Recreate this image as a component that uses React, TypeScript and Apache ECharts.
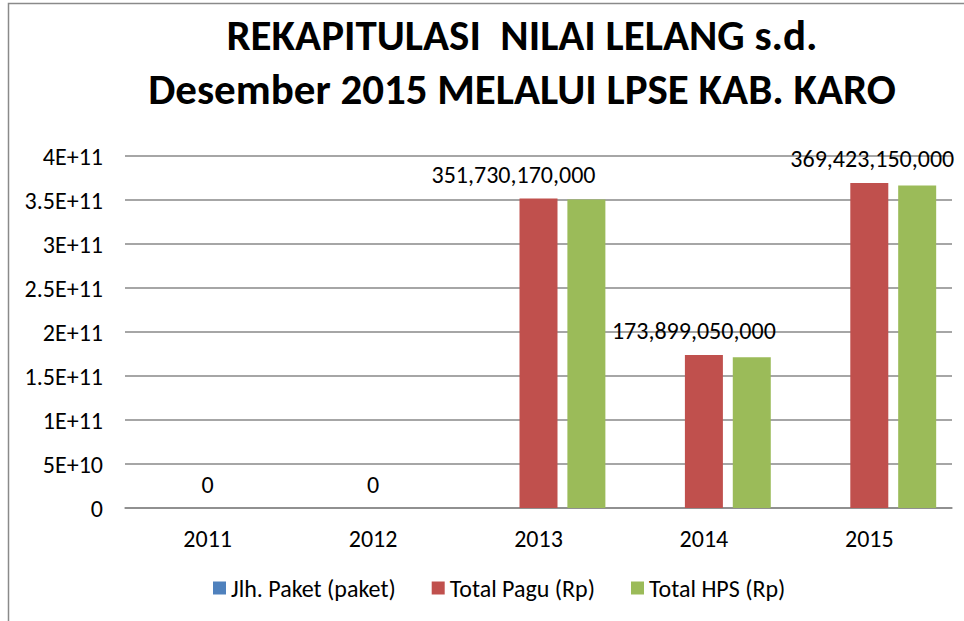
import React, { useEffect, useRef } from "react";
import * as echarts from "echarts";

const categories = ["2011", "2012", "2013", "2014", "2015"];
const seriesNames = ["Jlh. Paket (paket)", "Total Pagu (Rp)", "Total HPS (Rp)"];
const jlhPaket = [0, 0, 0, 0, 0];
const totalPagu = [0, 0, 351730170000, 173899050000, 369423150000];
const totalHps = [0, 0, 350500000000, 171300000000, 366400000000];
const yTickLabels = ["0", "5E+10", "1E+11", "1.5E+11", "2E+11", "2.5E+11", "3E+11", "3.5E+11", "4E+11"];
const labelShift = [0, 0, -25, -10, 3];

const FONT = "Calibri, Carlito, Lato, sans-serif";

export default function App() {
  const ref = useRef<HTMLDivElement>(null);
  useEffect(() => {
    if (!ref.current) return;
    const chart = echarts.init(ref.current, undefined, { renderer: "svg" });
    chart.setOption({
      animation: false,
      backgroundColor: "#ffffff",
      title: {
        text: "REKAPITULASI  NILAI LELANG s.d.\nDesember 2015 MELALUI LPSE KAB. KARO",
        left: 517,
        top: 3,
        textAlign: "center",
        textStyle: {
          fontFamily: FONT,
          fontSize: 43,
          fontWeight: "bold",
          color: "#000",
          lineHeight: 54,
        },
      },
      graphic: [
        {
          type: "polyline",
          shape: { points: [[8.5, 621], [8.5, 3.5], [964, 3.5]] },
          style: { stroke: "#8a8a8a", lineWidth: 1.5, fill: "none" },
        },
      ],
      legend: {
        top: 571,
        left: 208,
        itemWidth: 13,
        itemHeight: 13,
        itemGap: 36,
        icon: "rect",
        textStyle: { fontFamily: FONT, fontSize: 24, color: "#000", lineHeight: 24 },
        data: seriesNames,
      },
      grid: { left: 125, right: 12, top: 156, bottom: 113, containLabel: false },
      xAxis: {
        type: "category",
        data: categories,
        axisLine: { show: true, lineStyle: { color: "#898989", width: 1.5 } },
        axisTick: { show: false },
        axisLabel: { fontFamily: FONT, fontSize: 24, color: "#000", margin: 18 },
      },
      yAxis: {
        type: "value",
        min: 0,
        max: 4e11,
        interval: 5e10,
        axisLine: { show: false },
        axisTick: { show: false },
        splitLine: { lineStyle: { color: "#898989", width: 1.5 } },
        axisLabel: {
          fontFamily: FONT,
          fontSize: 24,
          color: "#000",
          margin: 22,
          formatter: (v: number) => yTickLabels[Math.round(v / 5e10)],
        },
      },
      series: [
        {
          name: seriesNames[0],
          type: "bar",
          data: jlhPaket,
          barWidth: 38,
          barGap: "26%",
          itemStyle: { color: "#4F81BD" },
        },
        {
          name: seriesNames[1],
          type: "bar",
          barWidth: 38,
          barGap: "26%",
          itemStyle: { color: "#C0504D" },
          data: totalPagu.map((v, i) => ({
            value: v,
            label: { offset: [labelShift[i], 0] },
          })),
          label: {
            show: true,
            position: "top",
            distance: 12,
            fontFamily: FONT,
            fontSize: 24,
            color: "#000",
            formatter: (p: any) => Number(p.value).toLocaleString("en-US"),
          },
        },
        {
          name: seriesNames[2],
          type: "bar",
          data: totalHps,
          barWidth: 38,
          barGap: "26%",
          itemStyle: { color: "#9BBB59" },
        },
      ],
    });
    return () => chart.dispose();
  }, []);
  return (
    <div
      ref={ref}
      style={{ position: "absolute", left: 0, top: 0, width: 964, height: 621 }}
    />
  );
}
